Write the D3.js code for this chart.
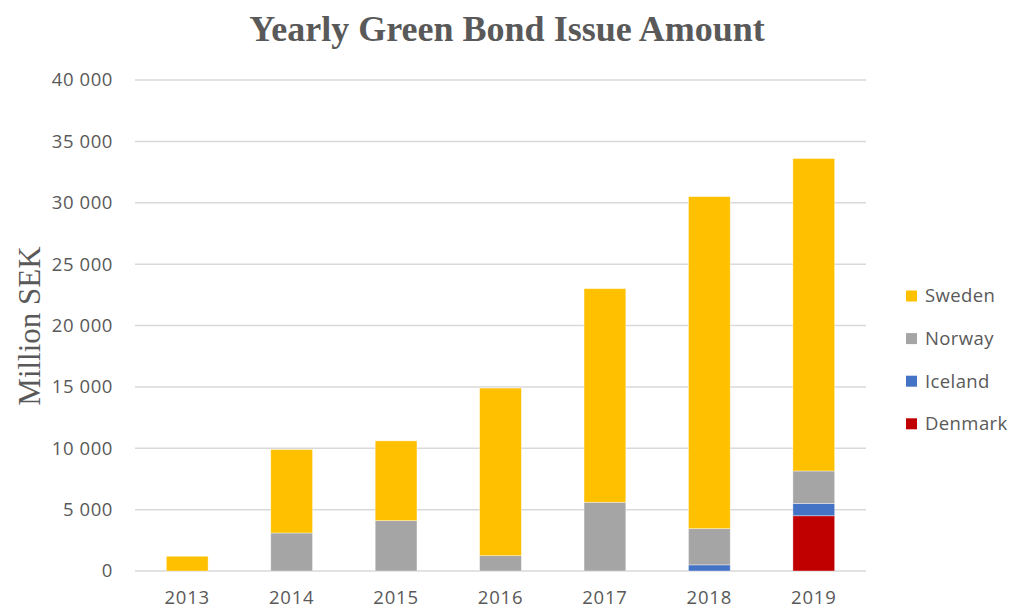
<!DOCTYPE html>
<html>
<head>
<meta charset="utf-8">
<script src="https://cdn.jsdelivr.net/npm/d3@7"></script>
<style>
  html, body { margin: 0; padding: 0; background: #fff; }
  svg { display: block; }
</style>
</head>
<body>
<svg id="chart" width="1013" height="610"></svg>
<script>
// Yearly issue amounts by country, million SEK
const years = ["2013", "2014", "2015", "2016", "2017", "2018", "2019"];
const denmark = [0, 0, 0, 0, 0, 0, 4500];
const iceland = [0, 0, 0, 0, 0, 500, 1000];
const norway  = [0, 3100, 4100, 1250, 5600, 2950, 2650];
const sweden  = [1200, 6800, 6500, 13650, 17400, 27050, 25450];
const yTicks = [0, 5000, 10000, 15000, 20000, 25000, 30000, 35000, 40000];

const seriesNames = ["Denmark", "Iceland", "Norway", "Sweden"];
const seriesColors = { Sweden: "#FFC000", Norway: "#A5A5A5", Iceland: "#4472C4", Denmark: "#C00000" };
const legendOrder = ["Sweden", "Norway", "Iceland", "Denmark"];

const rows = years.map((y, i) => ({
  year: y, Denmark: denmark[i], Iceland: iceland[i], Norway: norway[i], Sweden: sweden[i]
}));

const svg = d3.select("#chart");
const margin = { left: 135, right: 147, top: 80, bottom: 39 };
const W = 1013, H = 610;
const labelFont = "'Open Sans', 'Liberation Sans', sans-serif";
const textGray = "#595959";

const x = d3.scaleBand().domain(years).range([margin.left, W - margin.right]).paddingInner(0.6).paddingOuter(0.3);
const y = d3.scaleLinear().domain([0, 40000]).range([H - margin.bottom, margin.top]);

const fmt = v => d3.format(",")(v).replace(/,/g, " ");

// Gridlines
svg.append("g")
  .selectAll("line")
  .data(yTicks)
  .join("line")
  .attr("x1", margin.left).attr("x2", W - margin.right)
  .attr("y1", d => y(d)).attr("y2", d => y(d))
  .attr("stroke", "#D9D9D9").attr("stroke-width", 1.5);

// Y axis labels
const yAxis = d3.axisLeft(y).tickValues(yTicks).tickFormat(fmt).tickSize(0).tickPadding(22);
const gy = svg.append("g").attr("transform", `translate(${margin.left},0)`).call(yAxis);
gy.select(".domain").remove();
gy.selectAll("text")
  .attr("font-family", labelFont)
  .attr("font-size", 18.5).attr("letter-spacing", 0.6).attr("fill", textGray);

// X axis labels
const xAxis = d3.axisBottom(x).tickSize(0).tickPadding(20);
const gx = svg.append("g").attr("transform", `translate(0,${H - margin.bottom})`).call(xAxis);
gx.select(".domain").remove();
gx.selectAll("text")
  .attr("font-family", labelFont)
  .attr("font-size", 18.5).attr("letter-spacing", 0.8).attr("fill", textGray);

// Stacked bars
const stacked = d3.stack().keys(seriesNames)(rows);
svg.append("g")
  .selectAll("g")
  .data(stacked)
  .join("g")
  .attr("fill", d => seriesColors[d.key])
  .selectAll("rect")
  .data(d => d.filter(p => p[1] - p[0] > 0))
  .join("rect")
  .attr("x", d => x(d.data.year))
  .attr("width", x.bandwidth())
  .attr("y", d => y(d[1]))
  .attr("height", d => y(d[0]) - y(d[1]))
  .attr("stroke", "#ffffff").attr("stroke-opacity", 0.5).attr("stroke-width", 0.75);

// Title
svg.append("text")
  .attr("x", 507).attr("y", 41)
  .attr("text-anchor", "middle")
  .attr("font-family", "'Liberation Serif', 'Times New Roman', serif")
  .attr("font-weight", "bold")
  .attr("font-size", 36)
  .attr("fill", textGray)
  .text("Yearly Green Bond Issue Amount");

// Y axis title
svg.append("text")
  .attr("transform", "translate(40,326) rotate(-90)")
  .attr("text-anchor", "middle")
  .attr("font-family", "'Liberation Serif', 'Times New Roman', serif")
  .attr("font-size", 31)
  .attr("fill", textGray)
  .text("Million SEK");

// Legend
const legend = svg.append("g")
  .selectAll("g")
  .data(legendOrder)
  .join("g")
  .attr("transform", (d, i) => `translate(906,${296 + i * 42.6})`);
legend.append("rect")
  .attr("x", 0).attr("y", -5.5).attr("width", 11).attr("height", 11)
  .attr("fill", d => seriesColors[d]);
legend.append("text")
  .attr("x", 19).attr("y", 0).attr("dy", "0.35em")
  .attr("font-family", labelFont)
  .attr("font-size", 18.5).attr("letter-spacing", 0.4).attr("fill", textGray)
  .text(d => d);
</script>
</body>
</html>
